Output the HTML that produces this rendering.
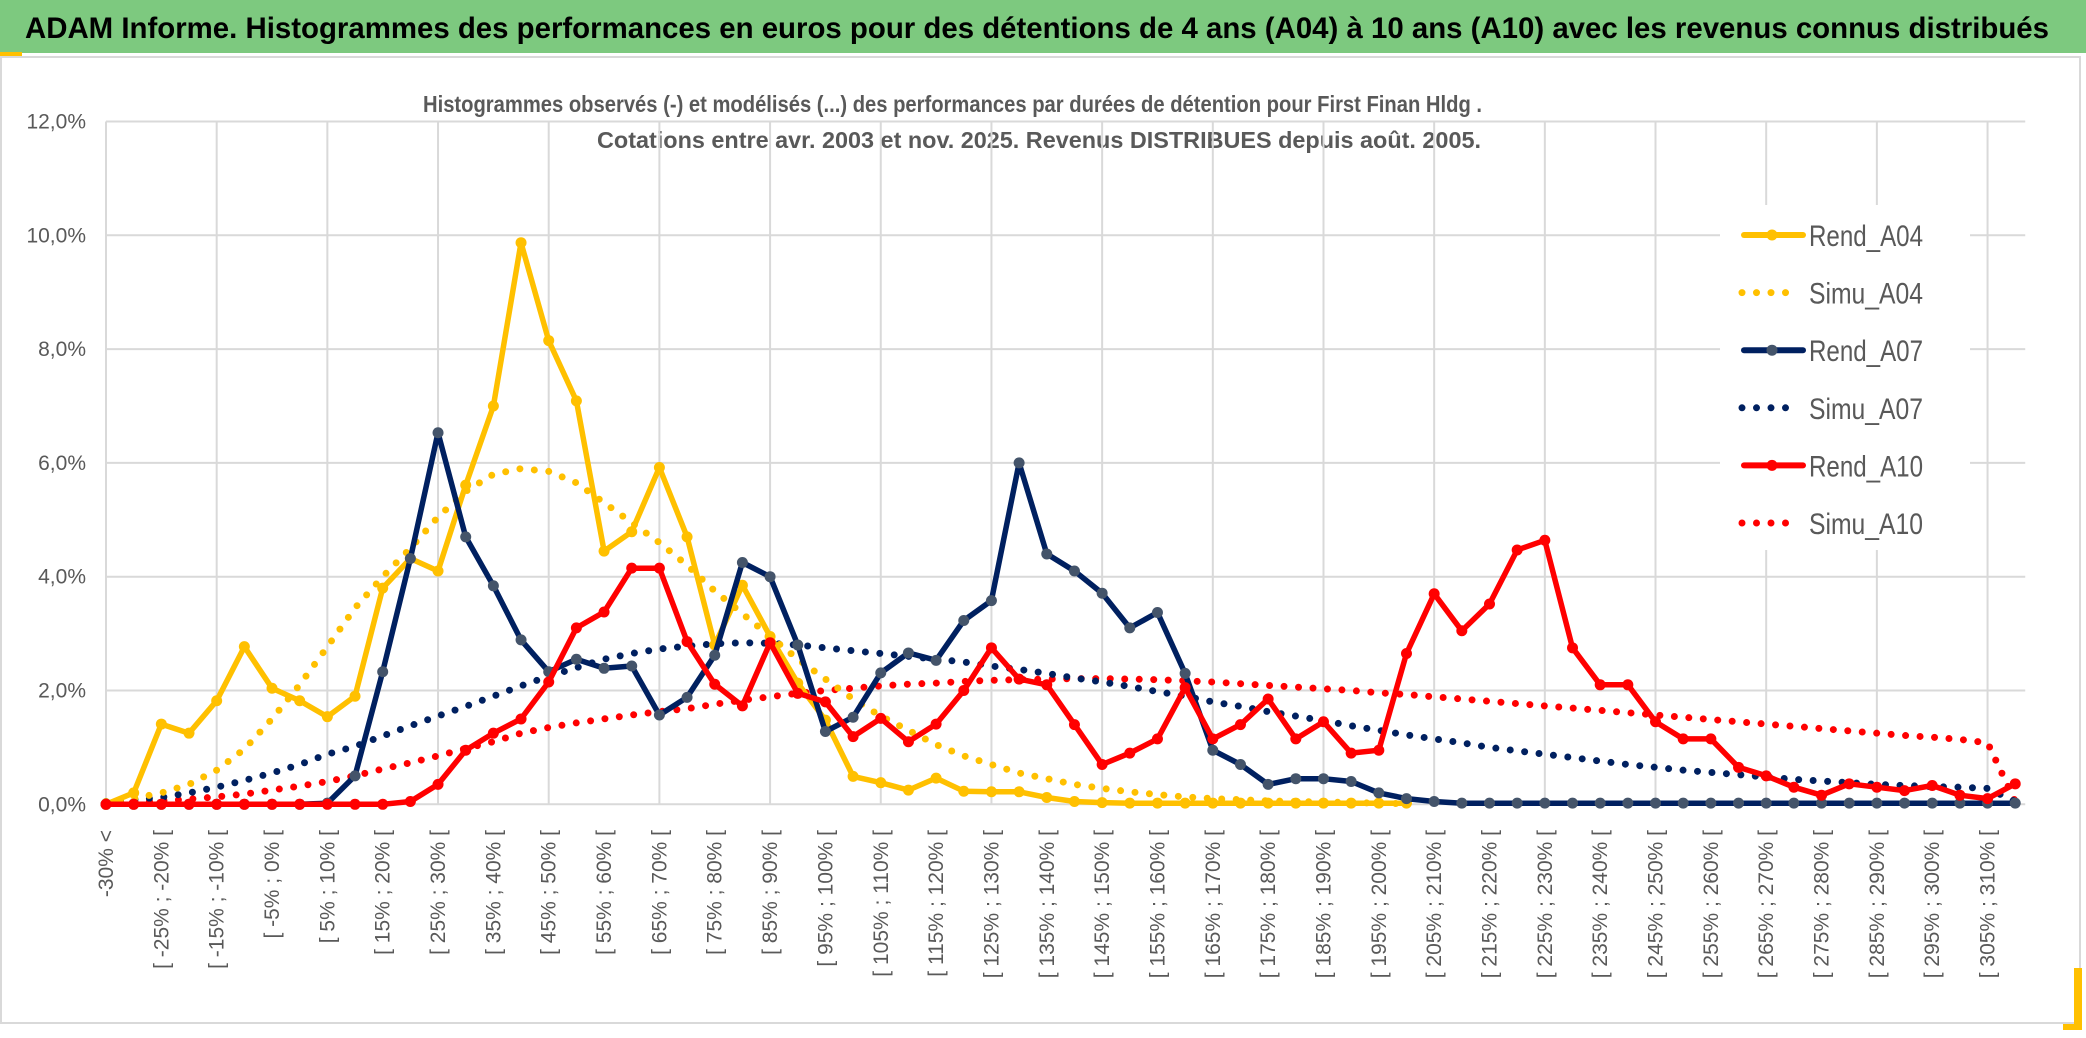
<!DOCTYPE html>
<html><head><meta charset="utf-8">
<style>
html,body{margin:0;padding:0;background:#fff;}
body{width:2086px;height:1033px;overflow:hidden;position:relative;font-family:"Liberation Sans Narrow","Liberation Sans",sans-serif;}
</style></head>
<body>
<svg id="chart" width="2086" height="1033" viewBox="0 0 2086 1033" xmlns="http://www.w3.org/2000/svg">
  <rect x="0" y="0" width="2086" height="53" fill="#7DC97F"/>
  <rect x="0" y="52" width="22" height="4" fill="#FFC000"/>
  <text x="25" y="38" font-family="Liberation Sans Narrow, Liberation Sans, sans-serif" font-weight="bold" font-size="30" fill="#000" textLength="2024" lengthAdjust="spacingAndGlyphs">ADAM Informe. Histogrammes des performances en euros pour des détentions de 4 ans (A04) à 10 ans (A10) avec les revenus connus distribués</text>
  <rect x="1" y="57" width="2079" height="966" fill="#fff" stroke="#d9d9d9" stroke-width="2"/>
  <rect x="2074" y="968" width="8" height="62" fill="#FFC000"/>
  <rect x="2063" y="1024" width="19" height="6" fill="#FFC000"/>
  <text x="423" y="112" font-weight="bold" font-size="23" fill="#595959" textLength="1059" lengthAdjust="spacingAndGlyphs">Histogrammes observés (-) et modélisés (...) des performances par durées de détention pour First Finan Hldg .</text>
  <text x="597" y="148" font-weight="bold" font-size="23" fill="#595959" textLength="884" lengthAdjust="spacingAndGlyphs">Cotations entre avr. 2003 et nov. 2025. Revenus DISTRIBUES depuis août. 2005.</text>
  <g id="grid"></g>
  <g id="yaxis"></g>
  <g id="xaxis"></g>
  <g id="series"></g>
  <g id="legend"></g>
</svg>
<script>
const categories = ["-30% <"];
for (let k = 1; k < 70; k++) { const lo = -30 + 5 * (k - 1); categories.push("[ " + lo + "% ; " + (lo + 5) + "% ["); }
const yTicks = [0, 2, 4, 6, 8, 10, 12];
const yTickLabels = ["0,0%", "2,0%", "4,0%", "6,0%", "8,0%", "10,0%", "12,0%"];
const seriesNames = ["Rend_A04", "Simu_A04", "Rend_A07", "Simu_A07", "Rend_A10", "Simu_A10"];
const rendA04 = [0.0,0.2,1.41,1.25,1.82,2.77,2.04,1.82,1.54,1.9,3.8,4.32,4.1,5.61,7.0,9.87,8.15,7.09,4.45,4.79,5.92,4.7,2.8,3.85,2.95,2.13,1.48,0.49,0.38,0.25,0.46,0.23,0.22,0.22,0.12,0.05,0.03,0.02,0.02,0.02,0.02,0.02,0.02,0.02,0.02,0.02,0.02,0.02,null,null,null,null,null,null,null,null,null,null,null,null,null,null,null,null,null,null,null,null,null,null];
const simuA04 = [0.05,0.1,0.2,0.35,0.6,0.97,1.5,2.1,2.77,3.45,4.0,4.5,5.05,5.5,5.8,5.9,5.85,5.65,5.3,4.95,4.6,4.2,3.75,3.35,2.95,2.55,2.2,1.85,1.55,1.3,1.05,0.85,0.7,0.55,0.45,0.35,0.28,0.22,0.17,0.13,0.1,0.08,0.06,0.05,0.04,0.03,0.02,0.01,null,null,null,null,null,null,null,null,null,null,null,null,null,null,null,null,null,null,null,null,null,null];
const rendA07 = [0,0,0,0,0,0,0,0,0.02,0.5,2.33,4.32,6.53,4.7,3.84,2.89,2.33,2.55,2.39,2.43,1.57,1.88,2.62,4.25,4.0,2.8,1.28,1.53,2.31,2.66,2.53,3.23,3.58,6.0,4.4,4.1,3.71,3.1,3.37,2.3,0.95,0.7,0.35,0.45,0.45,0.4,0.2,0.1,0.05,0.02,0.02,0.02,0.02,0.02,0.02,0.02,0.02,0.02,0.02,0.02,0.02,0.02,0.02,0.02,0.02,0.02,0.02,0.02,0.02,0.02];
const simuA07 = [0.05,0.08,0.12,0.2,0.3,0.42,0.55,0.7,0.88,1.02,1.2,1.38,1.55,1.72,1.9,2.08,2.25,2.4,2.55,2.65,2.73,2.78,2.82,2.84,2.83,2.8,2.75,2.7,2.65,2.6,2.55,2.5,2.43,2.37,2.3,2.22,2.15,2.07,1.98,1.9,1.8,1.72,1.63,1.55,1.47,1.38,1.3,1.22,1.15,1.08,1.0,0.94,0.88,0.82,0.76,0.7,0.65,0.6,0.56,0.52,0.48,0.44,0.41,0.38,0.35,0.33,0.31,0.3,0.28,0.05];
const rendA10 = [0,0,0,0,0,0,0,0,0,0,0,0.05,0.35,0.95,1.25,1.5,2.15,3.1,3.38,4.15,4.15,2.86,2.11,1.73,2.84,1.95,1.8,1.19,1.51,1.1,1.41,2.0,2.75,2.2,2.1,1.4,0.7,0.9,1.15,2.05,1.15,1.4,1.85,1.15,1.45,0.9,0.95,2.65,3.7,3.05,3.52,4.47,4.64,2.75,2.1,2.1,1.45,1.15,1.15,0.65,0.5,0.3,0.16,0.36,0.3,0.24,0.33,0.16,0.1,0.36];
const simuA10 = [0.02,0.04,0.06,0.09,0.13,0.18,0.25,0.32,0.4,0.5,0.62,0.73,0.85,0.98,1.1,1.25,1.35,1.43,1.5,1.57,1.63,1.68,1.76,1.83,1.89,1.95,2.0,2.04,2.08,2.11,2.13,2.16,2.18,2.19,2.2,2.21,2.21,2.2,2.19,2.17,2.15,2.12,2.09,2.06,2.03,2.0,1.96,1.93,1.89,1.85,1.81,1.77,1.73,1.69,1.65,1.61,1.57,1.53,1.49,1.45,1.41,1.37,1.33,1.29,1.25,1.21,1.18,1.14,1.08,0.05];

const X0 = 106, DX = 27.67, Y0 = 804.3, PPU = 56.9;
function xs(i) { return X0 + DX * i; }
function ys(v) { return Y0 - PPU * v; }
const NS = "http://www.w3.org/2000/svg";
function mk(tag, attrs, parent) { const e = document.createElementNS(NS, tag); for (const k in attrs) e.setAttribute(k, attrs[k]); parent.appendChild(e); return e; }

const grid = document.getElementById("grid");
yTicks.forEach(function (t) {
  const l = mk("line", {x1: xs(0), x2: xs(69) + 10, y1: ys(t), y2: ys(t), stroke: "#d9d9d9", "stroke-width": 2}, grid);
  
  
});
for (let i = 0; i < categories.length; i += 4) {
  const l = mk("line", {x1: xs(i), x2: xs(i), y1: ys(12), y2: ys(0), stroke: "#d9d9d9", "stroke-width": 2}, grid);
  
  
}
const yaxis = document.getElementById("yaxis");
yTicks.forEach(function (t, k) {
  const tx = mk("text", {x: 86, y: ys(t) + 7, "text-anchor": "end", "font-size": 21, fill: "#595959"}, yaxis);
  tx.textContent = yTickLabels[k];
  
  
});
const xaxis = document.getElementById("xaxis");
for (let i = 0; i < categories.length; i += 2) {
  const tx = mk("text", {x: 0, y: 0, "text-anchor": "end", "font-family": "Liberation Sans, sans-serif", "font-size": 21, fill: "#595959", transform: "translate(" + (xs(i) + 7) + ",830) rotate(-90)"}, xaxis);
  tx.textContent = categories[i];
  
  
}

const seriesG = document.getElementById("series");
function pathFor(arr) {
  let d = "", pen = false;
  arr.forEach(function (v, i) {
    if (v === null) { pen = false; return; }
    d += (pen ? "L" : "M") + xs(i).toFixed(1) + "," + ys(v).toFixed(1);
    pen = true;
  });
  return d;
}
function drawDotted(arr, color, name) {
  const p = mk("path", {d: pathFor(arr), fill: "none", stroke: color, "stroke-width": 7, "stroke-linecap": "round", "stroke-dasharray": "0 14.5"}, seriesG);
  
  
}
function drawSolid(arr, color, mcolor, name) {
  const p = mk("path", {d: pathFor(arr), fill: "none", stroke: color, "stroke-width": 5.5, "stroke-linejoin": "round"}, seriesG);
  
  
  arr.forEach(function (v, i) {
    if (v === null) return;
    const c = mk("circle", {cx: xs(i), cy: ys(v), r: 5.5, fill: mcolor}, seriesG);
    
    
  });
}
drawDotted(simuA10, "#FF0000", "simu-a10-line");
drawDotted(simuA07, "#002060", "simu-a07-line");
drawDotted(simuA04, "#FFC000", "simu-a04-line");
drawSolid(rendA04, "#FFC000", "#FFC000", "rend-a04-line");
drawSolid(rendA07, "#002060", "#44546A", "rend-a07-line");
drawSolid(rendA10, "#FF0000", "#FF0000", "rend-a10-line");

const legend = document.getElementById("legend");
const lbg = mk("rect", {x: 1720, y: 205, width: 250, height: 345, fill: "#fff"}, legend);


const legColors = ["#FFC000", "#FFC000", "#002060", "#002060", "#FF0000", "#FF0000"];
const legMarker = ["#FFC000", null, "#44546A", null, "#FF0000", null];
seriesNames.forEach(function (nm, k) {
  const yy = 235 + k * 57.6;
  if (k % 2 === 0) {
    const l = mk("line", {x1: 1744, x2: 1803, y1: yy, y2: yy, stroke: legColors[k], "stroke-width": 6, "stroke-linecap": "round"}, legend);
    
    
    const c = mk("circle", {cx: 1772, cy: yy, r: 5.5, fill: legMarker[k]}, legend);
    
    
  } else {
    const l = mk("line", {x1: 1742, x2: 1800, y1: yy, y2: yy, stroke: legColors[k], "stroke-width": 7, "stroke-linecap": "round", "stroke-dasharray": "0 14.5"}, legend);
    
    
  }
  const t = mk("text", {x: 1809, y: yy + 11, "font-size": 30, fill: "#595959", textLength: 114, lengthAdjust: "spacingAndGlyphs"}, legend);
  t.textContent = nm;
  
  
});
</script>
</body></html>
